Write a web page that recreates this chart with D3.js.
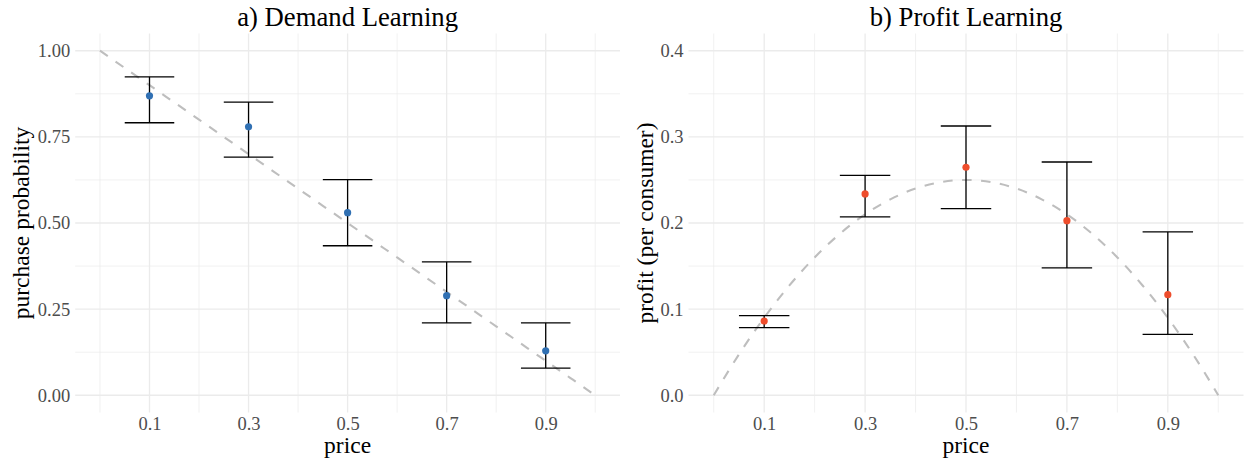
<!DOCTYPE html>
<html>
<head>
<meta charset="utf-8">
<script src="https://cdn.jsdelivr.net/npm/d3@7"></script>
<style>
  html, body { margin: 0; padding: 0; background: #ffffff; }
  svg { display: block; }
  text { font-family: "Liberation Serif", "Times New Roman", serif; }
</style>
</head>
<body>
<svg id="chart" width="1248" height="462"></svg>
<script>
// Tested prices
const prices = [0.1, 0.3, 0.5, 0.7, 0.9];

// a) Demand learning: estimated purchase probability with interval bounds
const demandMean  = [0.869, 0.779, 0.530, 0.289, 0.129];
const demandLower = [0.791, 0.691, 0.434, 0.210, 0.079];
const demandUpper = [0.924, 0.851, 0.626, 0.387, 0.210];

// b) Profit learning: estimated profit per consumer with interval bounds
const profitMean  = [0.0862, 0.2337, 0.2647, 0.2027, 0.1168];
const profitLower = [0.0785, 0.2070, 0.2166, 0.1478, 0.0708];
const profitUpper = [0.0924, 0.2554, 0.3126, 0.2708, 0.1896];

// Reference curves (dashed)
const curveX      = [0, 0.05, 0.1, 0.15, 0.2, 0.25, 0.3, 0.35, 0.4, 0.45, 0.5,
                     0.55, 0.6, 0.65, 0.7, 0.75, 0.8, 0.85, 0.9, 0.95, 1];
const demandCurve = [1, 0.95, 0.9, 0.85, 0.8, 0.75, 0.7, 0.65, 0.6, 0.55, 0.5,
                     0.45, 0.4, 0.35, 0.3, 0.25, 0.2, 0.15, 0.1, 0.05, 0];
const profitCurve = [0, 0.0475, 0.09, 0.1275, 0.16, 0.1875, 0.21, 0.2275, 0.24, 0.2475, 0.25,
                     0.2475, 0.24, 0.2275, 0.21, 0.1875, 0.16, 0.1275, 0.09, 0.0475, 0];

// Axis breaks and labels
const xMajor = [0.1, 0.3, 0.5, 0.7, 0.9];
const xMinor = [0, 0.2, 0.4, 0.6, 0.8, 1.0];
const demandTicks = [0, 0.25, 0.5, 0.75, 1.0];
const demandMinor = [0.125, 0.375, 0.625, 0.875];
const profitTicks = [0, 0.1, 0.2, 0.3, 0.4];
const profitMinor = [0.05, 0.15, 0.25, 0.35];

const svg = d3.select("#chart");
const gridColor = "#ebebeb";
const panelTop = 33.5, panelBottom = 412.5;

function drawPanel(cfg) {
  const x = d3.scaleLinear().domain([-0.05, 1.05]).range([cfg.left, cfg.right]);
  const y = d3.scaleLinear().domain(cfg.yDomain).range([panelBottom, panelTop]);
  const g = svg.append("g");

  // grid: minor then major
  g.selectAll(".hminor").data(cfg.yMinor).join("line")
    .attr("x1", cfg.left).attr("x2", cfg.right)
    .attr("y1", d => y(d)).attr("y2", d => y(d))
    .attr("stroke", gridColor).attr("stroke-width", 0.7);
  g.selectAll(".vminor").data(xMinor).join("line")
    .attr("x1", d => x(d)).attr("x2", d => x(d))
    .attr("y1", panelTop).attr("y2", panelBottom)
    .attr("stroke", gridColor).attr("stroke-width", 0.7);
  g.selectAll(".hmajor").data(cfg.yTicks).join("line")
    .attr("x1", cfg.left).attr("x2", cfg.right)
    .attr("y1", d => y(d)).attr("y2", d => y(d))
    .attr("stroke", gridColor).attr("stroke-width", 1.3);
  g.selectAll(".vmajor").data(xMajor).join("line")
    .attr("x1", d => x(d)).attr("x2", d => x(d))
    .attr("y1", panelTop).attr("y2", panelBottom)
    .attr("stroke", gridColor).attr("stroke-width", 1.3);

  // axes (labels only)
  const xAxis = d3.axisBottom(x).tickValues(xMajor).tickSize(0).tickPadding(4)
    .tickFormat(d3.format(".1f"));
  const xg = g.append("g").attr("transform", `translate(0,${panelBottom})`).call(xAxis);
  const yAxis = d3.axisLeft(y).tickValues(cfg.yTicks).tickSize(0).tickPadding(5)
    .tickFormat(cfg.yFormat);
  const yg = g.append("g").attr("transform", `translate(${cfg.left},0)`).call(yAxis);
  [xg, yg].forEach(a => {
    a.select(".domain").remove();
    a.selectAll("text")
      .attr("font-family", "Liberation Serif, serif")
      .attr("font-size", 18.5)
      .attr("fill", "#4d4d4d");
  });

  // dashed reference curve
  const line = d3.line().x(d => x(d[0])).y(d => y(d[1])).curve(d3.curveMonotoneX);
  g.append("path")
    .datum(d3.zip(curveX, cfg.curve))
    .attr("d", line)
    .attr("fill", "none")
    .attr("stroke", "#bebebe")
    .attr("stroke-width", 2.1)
    .attr("stroke-dasharray", "9.5,9.5");

  // error bars
  const rows = prices.map((p, i) => ({ p, m: cfg.mean[i], lo: cfg.lower[i], hi: cfg.upper[i] }));
  const half = x(0.05) - x(0);
  const eb = g.append("g").attr("stroke", "#000").attr("stroke-width", 1.3);
  eb.selectAll(".stem").data(rows).join("line")
    .attr("x1", d => x(d.p)).attr("x2", d => x(d.p))
    .attr("y1", d => y(d.lo)).attr("y2", d => y(d.hi));
  eb.selectAll(".capHi").data(rows).join("line")
    .attr("x1", d => x(d.p) - half).attr("x2", d => x(d.p) + half)
    .attr("y1", d => y(d.hi)).attr("y2", d => y(d.hi));
  eb.selectAll(".capLo").data(rows).join("line")
    .attr("x1", d => x(d.p) - half).attr("x2", d => x(d.p) + half)
    .attr("y1", d => y(d.lo)).attr("y2", d => y(d.lo));

  // points
  g.selectAll(".pt").data(rows).join("circle")
    .attr("cx", d => x(d.p)).attr("cy", d => y(d.m))
    .attr("r", 3.6).attr("fill", cfg.color);

  // titles
  const cx = (cfg.left + cfg.right) / 2;
  g.append("text").attr("x", cx).attr("y", 26).attr("text-anchor", "middle")
    .attr("font-size", 26.7).attr("fill", "#000").text(cfg.title);
  g.append("text").attr("x", cx).attr("y", 453).attr("text-anchor", "middle")
    .attr("font-size", 23.5).attr("fill", "#000").text("price");
  g.append("text")
    .attr("transform", `translate(${cfg.yTitleX},${(panelTop + panelBottom) / 2}) rotate(-90)`)
    .attr("text-anchor", "middle")
    .attr("font-size", 23.5).attr("fill", "#000").text(cfg.yTitle);
}

drawPanel({
  left: 75.2, right: 620,
  yDomain: [-0.05, 1.05],
  yTicks: demandTicks, yMinor: demandMinor, yFormat: d3.format(".2f"),
  curve: demandCurve,
  mean: demandMean, lower: demandLower, upper: demandUpper,
  color: "#3070b3",
  title: "a) Demand Learning",
  yTitle: "purchase probability", yTitleX: 29
});

drawPanel({
  left: 688.5, right: 1243.5,
  yDomain: [-0.02, 0.42],
  yTicks: profitTicks, yMinor: profitMinor, yFormat: d3.format(".1f"),
  curve: profitCurve,
  mean: profitMean, lower: profitLower, upper: profitUpper,
  color: "#ee4d2c",
  title: "b) Profit Learning",
  yTitle: "profit (per consumer)", yTitleX: 653
});
</script>
</body>
</html>
